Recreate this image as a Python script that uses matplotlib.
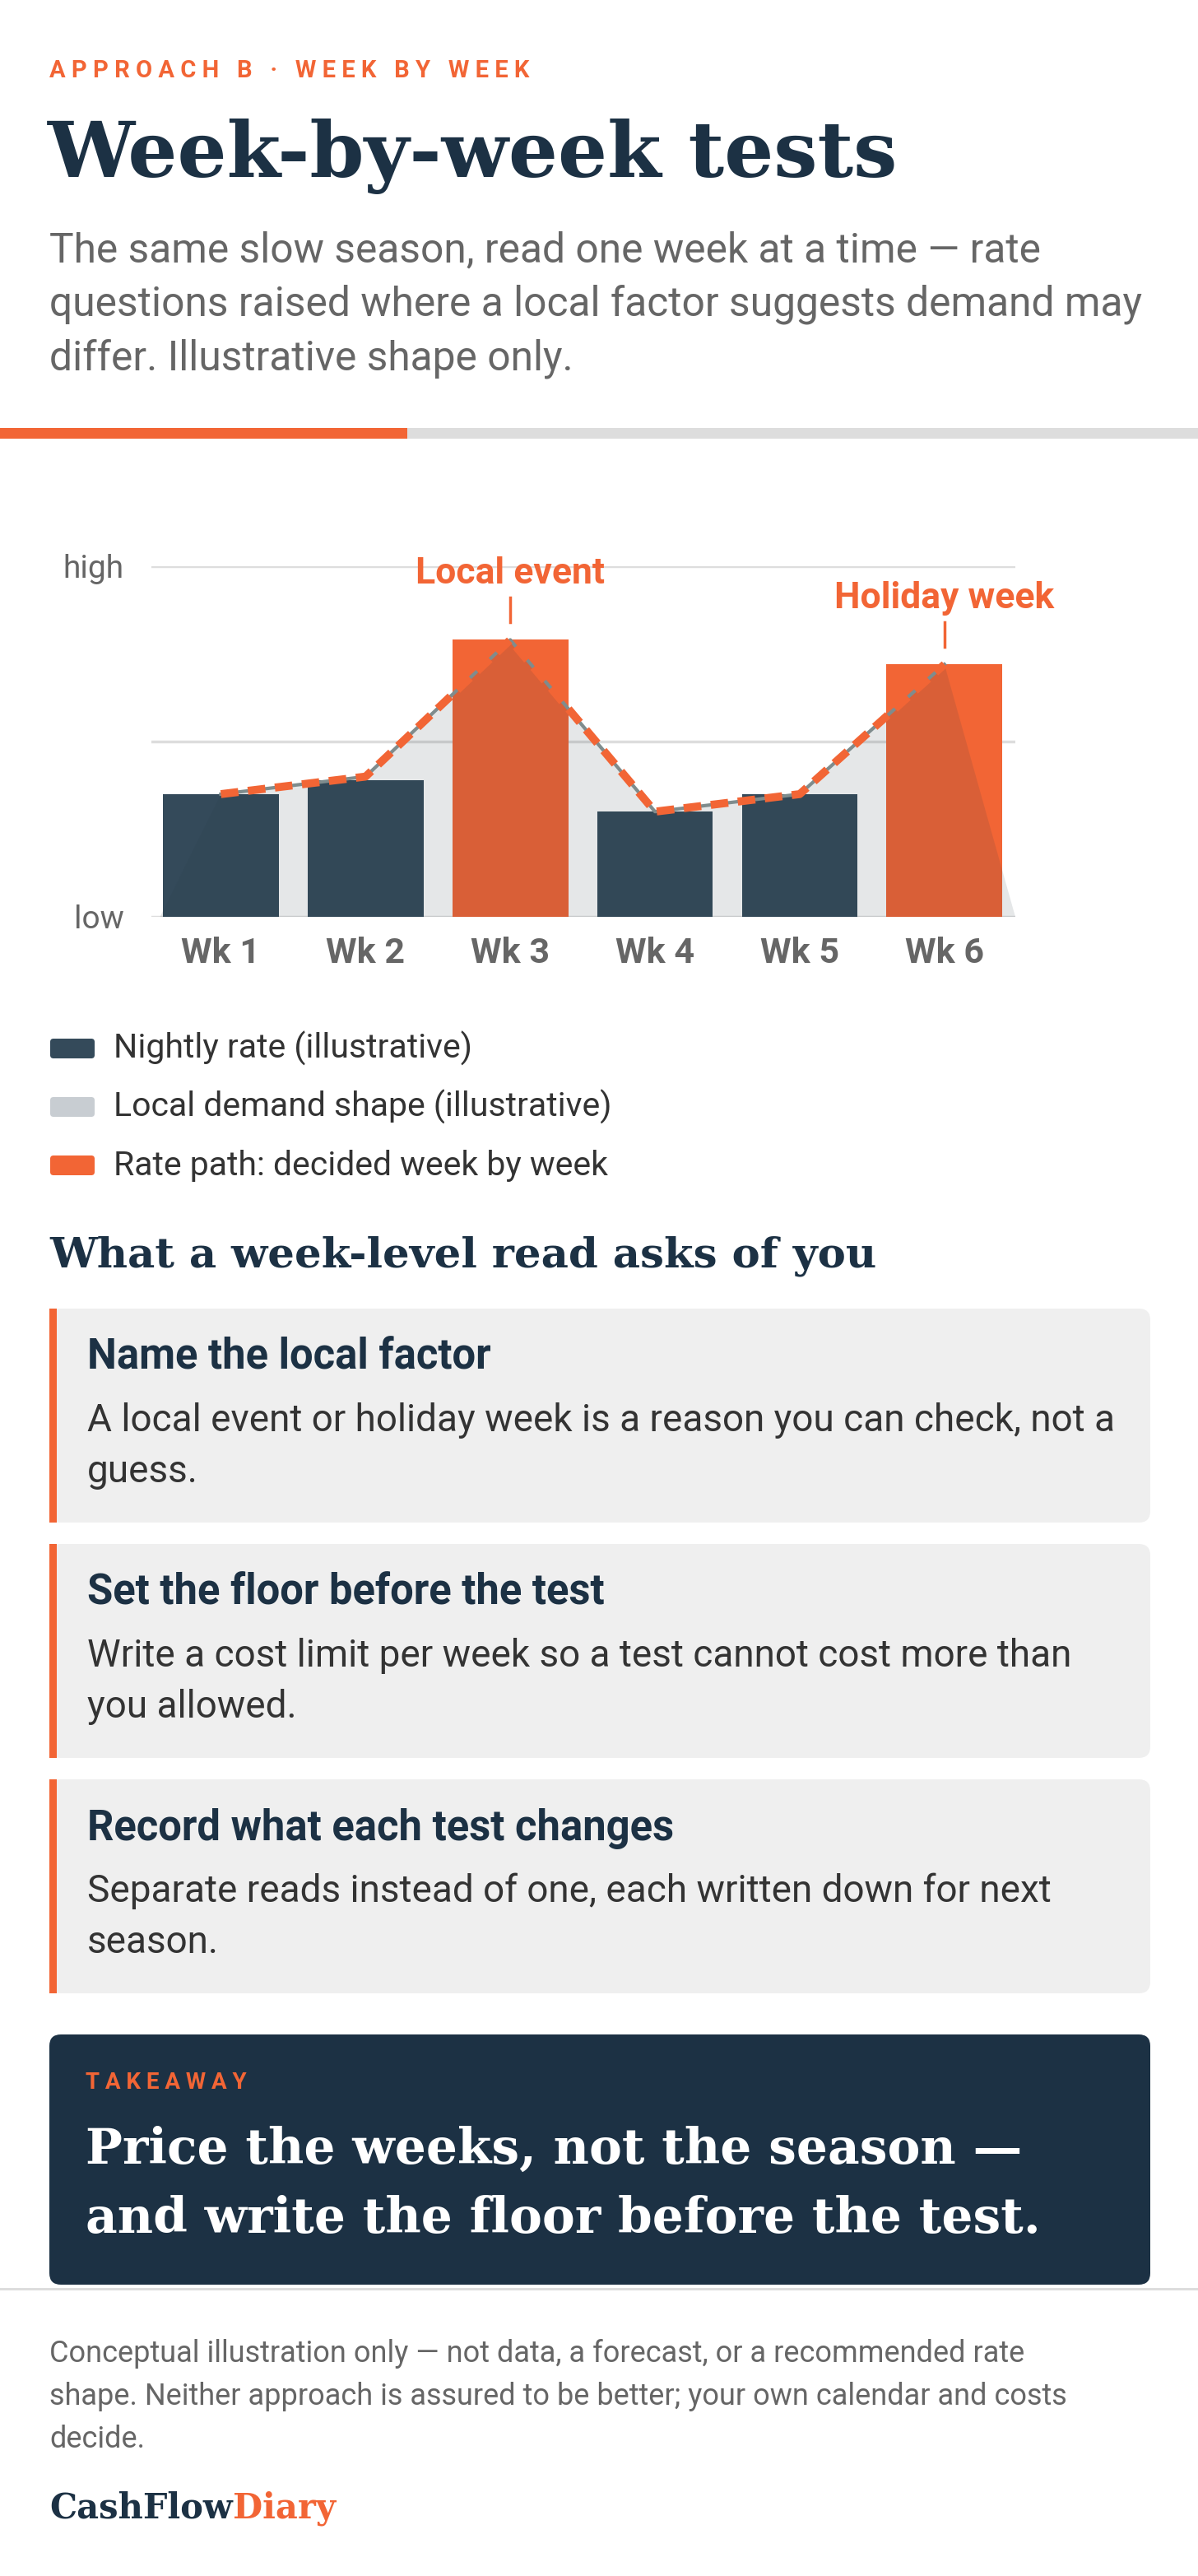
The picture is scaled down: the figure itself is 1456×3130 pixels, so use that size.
import matplotlib.pyplot as plt
from matplotlib.patches import FancyBboxPatch, Rectangle

# data
weeks = ["Wk 1", "Wk 2", "Wk 3", "Wk 4", "Wk 5", "Wk 6"]
nightly_rate = [0.35, 0.39, 0.79, 0.30, 0.35, 0.72]
local_demand = [0.35, 0.40, 0.79, 0.30, 0.35, 0.72]
rate_path = [0.35, 0.40, 0.79, 0.30, 0.35, 0.72]
flagged = [False, False, True, False, False, True]
notes = {2: "Local event", 5: "Holiday week"}
legend_labels = ["Nightly rate (illustrative)", "Local demand shape (illustrative)",
                 "Rate path: decided week by week"]
cards = [
    ("Name the local factor",
     ["A local event or holiday week is a reason you can check, not a", "guess."]),
    ("Set the floor before the test",
     ["Write a cost limit per week so a test cannot cost more than", "you allowed."]),
    ("Record what each test changes",
     ["Separate reads instead of one, each written down for next", "season."]),
]

NAVY = "#1c3144"
ORANGE = "#f26535"
BAR = "#344a5a"
GRAY = "#666666"
SANS = "Roboto"
SERIF = "DejaVu Serif"

W, H = 1456, 3130
fig = plt.figure(figsize=(W / 100, H / 100), dpi=100)
bg = fig.add_axes([0, 0, 1, 1])
bg.set_xlim(0, W)
bg.set_ylim(H, 0)
bg.axis("off")

# header
bg.text(60, 86, "A P P R O A C H   B   ·   W E E K   B Y   W E E K", color=ORANGE,
        fontsize=21, fontweight="bold", family=SANS, va="center")
bg.text(58, 190, "Week-by-week tests", color=NAVY, fontsize=68, fontweight="bold",
        family=SERIF, va="center")
for i, line in enumerate(["The same slow season, read one week at a time — rate",
                          "questions raised where a local factor suggests demand may",
                          "differ. Illustrative shape only."]):
    bg.text(60, 304 + i * 66, line, color=GRAY, fontsize=35.8, family=SANS, va="center")
bg.add_patch(Rectangle((0, 520), W, 13, color="#dddddd", lw=0))
bg.add_patch(Rectangle((0, 520), 495, 13, color=ORANGE, lw=0))

# chart
ax = fig.add_axes([184 / W, 1 - 1114 / H, (1234 - 184) / W, (1114 - 688) / H])
ax.set_xlim(-0.48, 5.49)
ax.set_ylim(0, 1)
for yv in [0, 0.5, 1]:
    ax.axhline(yv, color="#dddddd", lw=2.5, zorder=0)
x = list(range(len(weeks)))
ax.bar(x, nightly_rate, width=0.8, color=[ORANGE if f else BAR for f in flagged], zorder=2)
fx = [-0.42] + x + [5.49]
fy = [0] + local_demand + [0]
ax.fill(fx, fy, color="#2a3b48", alpha=0.12, lw=0, zorder=3)
ax.plot(x, local_demand, color="#7f8c8d", lw=3, zorder=4)
ax.plot(x, rate_path, color=ORANGE, lw=7, ls=(0, (2.2, 1.2)), zorder=5)
for i, label in notes.items():
    top = rate_path[i]
    ax.plot([i, i], [top + 0.05, top + 0.12], color=ORANGE, lw=2.5, clip_on=False)
    ax.text(i, top + 0.14, label, color=ORANGE, fontsize=32, fontweight="bold",
            family=SANS, ha="center", va="bottom")
ax.set_xticks(x)
ax.set_xticklabels(weeks, fontsize=31, fontweight="bold", color=GRAY, family=SANS)
ax.set_yticks([0, 1])
ax.set_yticklabels(["low", "high"], fontsize=28, color=GRAY, family=SANS)
ax.tick_params(length=0, pad=17)
ax.tick_params(axis="y", pad=24)
for s in ax.spines.values():
    s.set_visible(False)
ax.patch.set_alpha(0)

# legend
for i, (lab, col) in enumerate(zip(legend_labels, [BAR, "#c8cdd2", ORANGE])):
    yc = 1274 + i * 71
    bg.add_patch(FancyBboxPatch((61, yc - 12), 54, 24, boxstyle="round,pad=0,rounding_size=4",
                                color=col, lw=0))
    bg.text(138, yc, lab, color="#333333", fontsize=29.5, family=SANS, va="center")

# cards
bg.text(60, 1526, "What a week-level read asks of you", color=NAVY, fontsize=37,
        fontweight="bold", family=SERIF, va="center")
for i, (title, body) in enumerate(cards):
    y0 = 1590 + i * 286
    bg.add_patch(FancyBboxPatch((60, y0), 1338, 260, boxstyle="round,pad=0,rounding_size=14",
                                color="#efefef", lw=0))
    bg.add_patch(Rectangle((60, y0), 9, 260, color=ORANGE, lw=0))
    bg.text(106, y0 + 60, title, color=NAVY, fontsize=36.5, fontweight="bold", family=SANS,
            va="center")
    for j, line in enumerate(body):
        bg.text(106, y0 + 136 + j * 62, line, color="#333333", fontsize=33, family=SANS,
                va="center")

# takeaway
bg.add_patch(FancyBboxPatch((60, 2472), 1338, 304, boxstyle="round,pad=0,rounding_size=14",
                            color=NAVY, lw=0))
bg.text(104, 2530, "T A K E A W A Y", color=ORANGE, fontsize=20, fontweight="bold",
        family=SANS, va="center")
bg.text(104, 2612, "Price the weeks, not the season —", color="white", fontsize=43,
        fontweight="bold", family=SERIF, va="center")
bg.text(104, 2696, "and write the floor before the test.", color="white", fontsize=43,
        fontweight="bold", family=SERIF, va="center")
bg.add_patch(Rectangle((0, 2780), W, 3, color="#dddddd", lw=0))

# footer
for i, line in enumerate(["Conceptual illustration only — not data, a forecast, or a recommended rate",
                          "shape. Neither approach is assured to be better; your own calendar and costs",
                          "decide."]):
    bg.text(60, 2860 + i * 52, line, color=GRAY, fontsize=26, family=SANS, va="center")
t = bg.text(60, 3048, "CashFlow", color=NAVY, fontsize=30, fontweight="bold", family=SERIF,
            va="center")
fig.canvas.draw()
bb = t.get_window_extent()
bg.text(60 + bb.width, 3048, "Diary", color=ORANGE, fontsize=30, fontweight="bold",
        family=SERIF, va="center")

fig.savefig("out.png", dpi=100, facecolor="white")
